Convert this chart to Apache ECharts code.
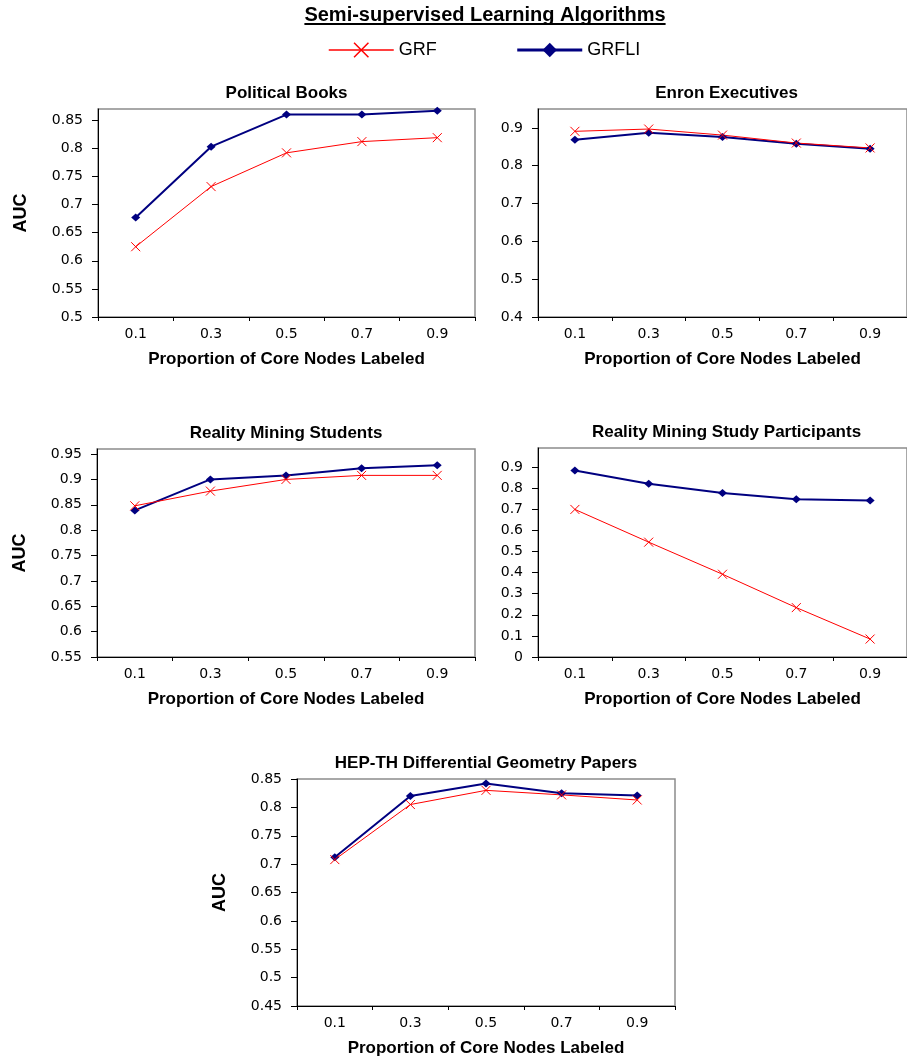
<!DOCTYPE html>
<html>
<head>
<meta charset="utf-8">
<script src="https://cdn.jsdelivr.net/npm/echarts@6/dist/echarts.min.js"></script>
<style>
html,body{margin:0;padding:0;background:#fff;}
#chart{width:907px;height:1059px;}
</style>
</head>
<body>
<div id="chart"></div>
<script>
// ---------- data ----------
var categories = ['0.1', '0.3', '0.5', '0.7', '0.9'];
var seriesNames = ['GRF', 'GRFLI'];

var panelTitles = ['Political Books', 'Enron Executives', 'Reality Mining Students',
  'Reality Mining Study Participants', 'HEP-TH Differential Geometry Papers'];

var polBooksGRF   = [0.625, 0.732, 0.792, 0.812, 0.819];
var polBooksGRFLI = [0.677, 0.803, 0.860, 0.860, 0.867];

var enronGRF   = [0.891, 0.897, 0.881, 0.860, 0.847];
var enronGRFLI = [0.869, 0.887, 0.876, 0.858, 0.845];

var rmStudentsGRF   = [0.848, 0.877, 0.900, 0.908, 0.908];
var rmStudentsGRFLI = [0.839, 0.900, 0.908, 0.922, 0.928];

var rmParticipantsGRF   = [0.699, 0.544, 0.392, 0.234, 0.085];
var rmParticipantsGRFLI = [0.883, 0.821, 0.777, 0.747, 0.741];

var hepGRF   = [0.708, 0.805, 0.830, 0.822, 0.813];
var hepGRFLI = [0.712, 0.820, 0.842, 0.825, 0.821];

var ticksPolBooks = [0.5, 0.55, 0.6, 0.65, 0.7, 0.75, 0.8, 0.85];
var ticksEnron = [0.4, 0.5, 0.6, 0.7, 0.8, 0.9];
var ticksRmStudents = [0.55, 0.6, 0.65, 0.7, 0.75, 0.8, 0.85, 0.9, 0.95];
var ticksRmParticipants = [0, 0.1, 0.2, 0.3, 0.4, 0.5, 0.6, 0.7, 0.8, 0.9];
var ticksHep = [0.45, 0.5, 0.55, 0.6, 0.65, 0.7, 0.75, 0.8, 0.85];

var mainTitle = 'Semi-supervised Learning Algorithms';
var xName = 'Proportion of Core Nodes Labeled';
var yName = 'AUC';

// ---------- layout / style ----------
var panels = [
  {grf: polBooksGRF, grfli: polBooksGRFLI, ticks: ticksPolBooks, min: 0.5, max: 0.87, step: 0.05,
   left: 98, top: 109, width: 377, height: 208, showY: true},
  {grf: enronGRF, grfli: enronGRFLI, ticks: ticksEnron, min: 0.4, max: 0.95, step: 0.1,
   left: 538, top: 109, width: 377, height: 208, showY: false},
  {grf: rmStudentsGRF, grfli: rmStudentsGRFLI, ticks: ticksRmStudents, min: 0.55, max: 0.96, step: 0.05,
   left: 97, top: 449, width: 378, height: 208, showY: true},
  {grf: rmParticipantsGRF, grfli: rmParticipantsGRFLI, ticks: ticksRmParticipants, min: 0, max: 0.99, step: 0.1,
   left: 538, top: 448, width: 377, height: 209, showY: false},
  {grf: hepGRF, grfli: hepGRFLI, ticks: ticksHep, min: 0.45, max: 0.85, step: 0.05,
   left: 297, top: 779, width: 378, height: 227, showY: true}
];

var RED = '#FF0000';
var NAVY = '#000080';
var BOLD = 'bold 17px "Liberation Sans", Arial, sans-serif';
var xSymbol = 'path://M0,0L10,10M10,0L0,10';

var grids = [], xAxes = [], yAxes = [], series = [], graphics = [];

panels.forEach(function (p, i) {
  grids.push({left: p.left, top: p.top, width: p.width, height: p.height,
    show: true, borderColor: '#8c8c8c', borderWidth: 1.5, backgroundColor: '#fff', containLabel: false});
  xAxes.push({
    type: 'category', gridIndex: i, data: categories, boundaryGap: true,
    name: xName, nameLocation: 'middle', nameGap: 34,
    nameTextStyle: {fontFamily: 'Liberation Sans', fontWeight: 'bold', fontSize: 17, color: '#000'},
    axisLine: {lineStyle: {color: '#000', width: 1}},
    axisTick: {show: true, length: 4, lineStyle: {color: '#000'}},
    axisLabel: {fontFamily: 'DejaVu Sans', fontSize: 14, color: '#000', margin: 10},
    splitLine: {show: false}
  });
  yAxes.push({
    type: 'value', gridIndex: i, min: p.min, max: p.max, interval: p.step,
    name: p.showY ? yName : '', nameLocation: 'middle', nameGap: 50,
    nameTextStyle: {fontFamily: 'Liberation Sans', fontWeight: 'bold', fontSize: 18, color: '#000', padding: [0, 0, 18, 0]},
    axisLine: {show: true, lineStyle: {color: '#000', width: 1}},
    axisTick: {show: true, length: 6, lineStyle: {color: '#000'}, customValues: p.ticks},
    axisLabel: {fontFamily: 'DejaVu Sans', fontSize: 14, color: '#000', margin: 15,
      customValues: p.ticks},
    splitLine: {show: false}
  });
  series.push({
    name: 'GRFLI', type: 'line', xAxisIndex: i, yAxisIndex: i, data: p.grfli,
    symbol: 'diamond', symbolSize: [9, 8], showAllSymbol: true,
    lineStyle: {color: NAVY, width: 2}, itemStyle: {color: NAVY}, animation: false
  });
  series.push({
    name: 'GRF', type: 'line', xAxisIndex: i, yAxisIndex: i, data: p.grf,
    symbol: xSymbol, symbolSize: 9, showAllSymbol: true,
    lineStyle: {color: RED, width: 1},
    itemStyle: {color: RED, borderColor: RED, borderWidth: 1}, animation: false
  });
  graphics.push({
    type: 'text', x: p.left + p.width / 2, y: p.top - 16,
    style: {text: panelTitles[i], font: BOLD, fill: '#000', align: 'center', verticalAlign: 'middle'}
  });
});

// main title with underline
var titleFont = 'bold 20px "Liberation Sans", Arial, sans-serif';
var ctx = document.createElement('canvas').getContext('2d');
ctx.font = titleFont;
var tw = ctx.measureText(mainTitle).width;
var tcx = 485, tcy = 15;
graphics.push({type: 'text', x: tcx, y: tcy,
  style: {text: mainTitle, font: titleFont, fill: '#000', align: 'center', verticalAlign: 'middle'}});
graphics.push({type: 'line', shape: {x1: tcx - tw / 2, y1: tcy + 9, x2: tcx + tw / 2, y2: tcy + 9},
  style: {stroke: '#000', lineWidth: 2}});

var chart = echarts.init(document.getElementById('chart'), null, {renderer: 'canvas'});
chart.setOption({
  backgroundColor: '#fff',
  animation: false,
  legend: {
    data: [
      {name: 'GRF', lineStyle: {width: 1.5}, itemStyle: {borderWidth: 1.5}},
      {name: 'GRFLI', lineStyle: {width: 3}}
    ],
    left: 323, top: 36, itemWidth: 65, itemHeight: 18, itemGap: 79,
    textStyle: {fontFamily: 'Liberation Sans', fontSize: 18, color: '#000'}
  },
  grid: grids,
  xAxis: xAxes,
  yAxis: yAxes,
  series: series,
  graphic: graphics
});
</script>
</body>
</html>
